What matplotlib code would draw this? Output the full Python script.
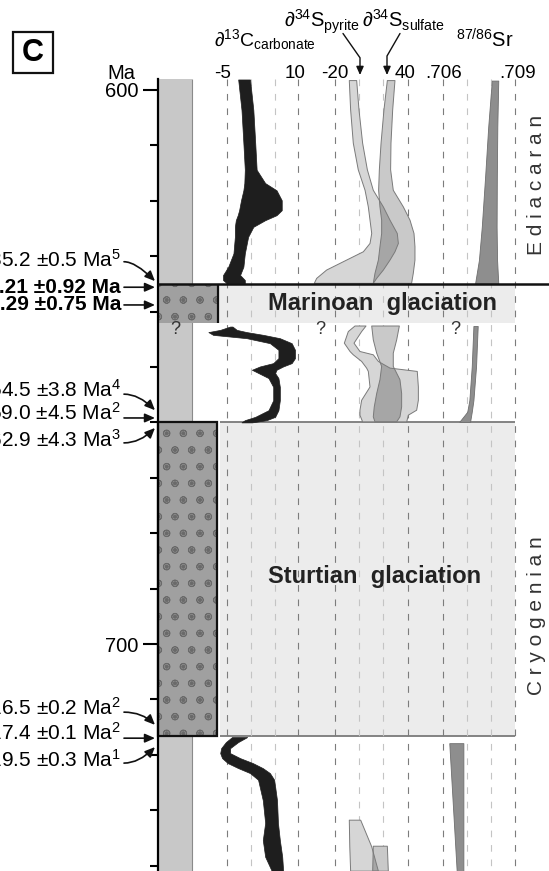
import numpy as np
import matplotlib.pyplot as plt
from matplotlib.patches import Rectangle

plt.rcParams['font.family'] = ['Liberation Sans', 'DejaVu Sans']
plt.rcParams['mathtext.fontset'] = 'custom'
plt.rcParams['mathtext.rm'] = 'Liberation Sans'
plt.rcParams['mathtext.it'] = 'Liberation Sans:italic'
plt.rcParams['mathtext.bf'] = 'Liberation Sans:bold'
plt.rcParams['hatch.linewidth'] = 0.6

# ---------------- time frame (Ma)
top_age, base_age = 598.0, 741.0
ediacaran_base = 635.0
marinoan = (635.0, 642.1)
sturtian = (659.9, 716.6)

# ---------------- d13C carbonate envelopes
c13_ed_age = [598.1, 603.6, 609.6, 614.4, 616.8, 618.1, 619.9, 621.7, 622.6, 623.5,
              624.7, 626.5, 629.5, 631.9, 633.4, 634.3, 634.9]
c13_ed_lo = [-2.7, -2.0, -1.6, -1.3, -1.4, -1.6, -2.1, -2.5, -2.8, -3.2,
             -3.4, -3.4, -3.7, -4.8, -5.9, -5.9, -5.1]
c13_ed_hi = [-0.2, 0.5, 0.9, 1.2, 3.0, 5.4, 6.5, 6.5, 5.4, 3.0,
             0.5, -0.6, -1.3, -1.6, -2.3, -1.3, -1.3]

c13_cr_age = [642.7, 643.3, 643.7, 644.2, 644.8, 645.7, 646.9, 648.4, 649.3, 649.9,
              650.5, 651.1, 652.0, 653.6, 656.0, 657.8, 659.0, 659.6, 660.0]
c13_cr_lo = [-4.4, -6.5, -9.0, -8.0, -0.9, 4.0, 5.8, 5.8, 4.7, 1.9,
             0.2, 1.6, 3.7, 4.7, 4.7, 3.7, 0.9, -1.3, -2.0]
c13_cr_hi = [-3.9, -3.0, -0.9, 2.6, 6.1, 8.6, 9.3, 9.3, 8.6, 6.8,
             5.4, 5.1, 5.8, 6.1, 6.1, 5.8, 5.1, 3.3, 0.2]

c13_pre_age = [716.8, 717.7, 718.8, 719.7, 720.6, 721.5, 722.4, 723.3, 724.5, 728.2,
               732.3, 735.4, 738.4, 741.0]
c13_pre_lo = [-4.0, -5.3, -6.3, -6.5, -6.1, -4.9, -2.7, -0.2, 1.5, 2.5, 3.0, 2.5, 3.0, 4.4]
c13_pre_hi = [-0.8, -2.7, -4.4, -4.4, -2.3, 0.4, 2.5, 4.0, 4.9, 5.5, 5.7, 6.1, 6.6, 6.8]

# ---------------- d34S pyrite / sulfate envelopes
pyr_ed_age = [598.3, 603.6, 609.6, 614.4, 618.1, 621.1, 623.5, 625.9, 627.7, 629.2,
              630.7, 632.5, 634.0, 634.9]
pyr_ed_lo = [-8.2, -7.1, -4.9, -0.8, 4.8, 7.5, 8.9, 10.3, 8.9, 3.4,
             -10.4, -26.9, -35.1, -37.1]
pyr_ed_hi = [-2.1, -0.2, 2.8, 6.7, 11.6, 19.9, 25.4, 31.4, 32.3, 29.5,
             25.4, 19.9, 14.4, 11.6]
sul_ed_age = [598.3, 603.6, 609.6, 614.4, 618.1, 621.1, 623.5, 625.9, 628.3, 630.7,
              633.1, 634.9]
sul_ed_lo = [23.2, 20.4, 18.0, 16.6, 16.0, 17.1, 18.5, 18.5, 17.1, 15.8, 13.0, 11.6]
sul_ed_hi = [29.5, 27.6, 26.2, 25.9, 28.1, 36.4, 41.9, 45.2, 46.0, 46.0, 44.6, 43.2]

pyr_cr_age = [642.6, 643.6, 645.7, 647.2, 647.8, 649.0, 650.2, 650.8, 653.6, 656.0,
              657.8, 658.7, 659.9]
pyr_cr_lo = [-3.5, -9.0, -12.3, -7.6, -4.9, 2.0, 6.1, 7.5, 8.9, 2.0, 0.6, 0.6, 2.8]
pyr_cr_hi = [5.6, 2.0, -4.3, 0.6, 11.6, 15.8, 25.4, 47.9, 48.8, 48.8, 47.4, 40.5, 39.2]
sul_cr_age = [642.6, 645.1, 647.5, 649.9, 652.3, 654.8, 657.2, 659.0, 659.9]
sul_cr_lo = [10.3, 11.6, 14.4, 18.5, 17.1, 14.4, 12.4, 11.6, 13.0]
sul_cr_hi = [33.1, 30.9, 28.1, 28.1, 33.6, 35.0, 35.0, 33.6, 30.9]

pyr_pre_age = [731.8, 736.6, 741.0]
pyr_pre_lo = [-8.2, -7.8, -7.1]
pyr_pre_hi = [1.2, 10.3, 15.8]
sul_pre_age = [736.5, 741.0]
sul_pre_lo = [11.6, 11.1]
sul_pre_hi = [23.2, 24.0]

# ---------------- 87/86Sr envelopes
sr_ed_age = [598.3, 606.6, 615.6, 624.7, 630.7, 634.9]
sr_ed_lo = [0.70803, 0.70788, 0.70775, 0.70761, 0.70749, 0.70733]
sr_ed_hi = [0.70830, 0.70826, 0.70824, 0.70823, 0.70825, 0.70830]
sr_cr_age = [642.6, 649.9, 656.0, 658.1, 659.9]
sr_cr_lo = [0.70726, 0.70719, 0.70709, 0.70700, 0.70667]
sr_cr_hi = [0.70744, 0.70737, 0.70726, 0.70719, 0.70712]
sr_pre_age = [717.9, 741.0]
sr_pre_lo = [0.70625, 0.70656]
sr_pre_hi = [0.70684, 0.70684]

# ---------------- radiometric dates
date_text = ['635.2 \u00b10.5 Ma$^{5}$', '636.21 \u00b10.92 Ma', '639.29 \u00b10.75 Ma',
             '654.5 \u00b13.8 Ma$^{4}$', '659.0 \u00b14.5 Ma$^{2}$', '662.9 \u00b14.3 Ma$^{3}$',
             '716.5 \u00b10.2 Ma$^{2}$', '717.4 \u00b10.1 Ma$^{2}$', '719.5 \u00b10.3 Ma$^{1}$']
date_bold = [False, True, True, False, False, False, False, False, False]
date_label_age = [630.7, 635.6, 638.8, 654.2, 658.3, 663.2, 711.6, 716.1, 720.9]
date_from_age = [631.0, 635.6, 638.8, 654.9, 659.2, 663.7, 712.3, 717.0, 721.5]
date_to_age = [634.5, 635.6, 638.8, 657.8, 659.2, 661.0, 714.6, 717.0, 718.6]

W, H = 549, 871
fig = plt.figure(figsize=(W / 100, H / 100), dpi=100)
fig.patch.set_facecolor('white')

# base axes: x in pixels, y in Ma (600 Ma at 90 px, 5.54 px per Myr)
ax = fig.add_axes([0, 0, 1, 1])
ax.set_xlim(0, W)
ax.set_ylim(600 + (H - 90) / 5.54, 600 - 90 / 5.54)
ax.patch.set_visible(False)
for s in ['right', 'top', 'bottom']:
    ax.spines[s].set_visible(False)
ax.spines['left'].set_position(('data', 158))
ax.spines['left'].set_bounds(top_age, base_age)
ax.spines['left'].set_linewidth(1.6)
ax.set_xticks([])
ax.set_yticks([600, 700])
ax.set_yticks(np.arange(610, 741, 10), minor=True)
ax.tick_params(axis='y', which='major', length=11, width=1.5, labelsize=14.5, pad=3)
ax.tick_params(axis='y', which='minor', length=6, width=1.5)

# lithology strip and glaciation bands
ax.add_patch(Rectangle((158, top_age), 34, base_age - top_age, fc='#c8c8c8', ec='none', zorder=1))
ax.vlines(192, top_age, base_age, colors='#8a8a8a', lw=0.8, zorder=1.1)
ax.add_patch(Rectangle((219, marinoan[0]), 296, marinoan[1] - marinoan[0], fc='#ececec', ec='none', zorder=1))
ax.add_patch(Rectangle((220, sturtian[0]), 295, sturtian[1] - sturtian[0], fc='#ececec', ec='none', zorder=1))
ax.hlines(sturtian, 220, 515, colors='#7a7a7a', lw=1.3, zorder=1.2)
for (a0, a1), w in [(marinoan, 60), (sturtian, 59)]:
    ax.add_patch(Rectangle((158, a0), w, a1 - a0, fc='#a0a0a0', ec='none', zorder=1.3))
    ax.add_patch(Rectangle((158, a0), w, a1 - a0, fc='none', ec='#6a6a6a', lw=0, hatch='o.', zorder=1.4))
ax.add_patch(Rectangle((158, sturtian[0]), 59, sturtian[1] - sturtian[0], fc='none', ec='#111', lw=1.6, zorder=1.5))
ax.vlines(218, marinoan[0], marinoan[1], colors='#111', lw=1.6, zorder=1.5)


def column(v0, x0, v1, x1):
    c = fig.add_axes([0, 0, 1, 1], sharey=ax)
    k = (v1 - v0) / (x1 - x0)
    c.set_xlim(v0 - x0 * k, v0 + (W - x0) * k)
    c.axis('off')
    c.patch.set_visible(False)
    return c


def grid(c, major, minor):
    c.vlines(major, top_age, base_age, colors='#7c7c7c', lw=0.8, linestyles=(0, (6, 7)), zorder=1)
    c.vlines(minor, top_age, base_age, colors='#c4c4c4', lw=0.8, linestyles=(0, (6, 7)), zorder=1)


def sulfur(c, pa, plo, phi, sa, slo, shi):
    c.fill_betweenx(pa, plo, phi, fc='#d6d6d6', ec='none', zorder=2)
    c.fill_betweenx(sa, slo, shi, fc='#c9c9c9', ec='none', zorder=2)
    a = np.linspace(max(pa[0], sa[0]), min(pa[-1], sa[-1]), 300)
    lo = np.maximum(np.interp(a, pa, plo), np.interp(a, sa, slo))
    hi = np.minimum(np.interp(a, pa, phi), np.interp(a, sa, shi))
    c.fill_betweenx(a, lo, hi, where=hi > lo, interpolate=True, fc='#a6a6a6', ec='none', zorder=2.1)
    c.fill_betweenx(pa, plo, phi, fc='none', ec='#7a7a7a', lw=0.7, zorder=2.2)
    c.fill_betweenx(sa, slo, shi, fc='none', ec='#7a7a7a', lw=0.7, zorder=2.2)


# d13C carbonate column
cax = column(-5, 227.3, 10, 298.3)
grid(cax, [-5, 10], [0, 5])
for a, lo, hi in [(c13_ed_age, c13_ed_lo, c13_ed_hi), (c13_cr_age, c13_cr_lo, c13_cr_hi),
                  (c13_pre_age, c13_pre_lo, c13_pre_hi)]:
    cax.fill_betweenx(a, lo, hi, fc='#1e1e1e', ec='#1e1e1e', lw=0.5, zorder=2)
for v, t in [(-6.0, '-5'), (9.4, '10')]:
    cax.text(v, 597.1, t, ha='center', va='center', fontsize=13.5)

# d34S column
sax = column(-20, 335.0, 40, 407.7)
grid(sax, [-20, 40], [0, 20])
sulfur(sax, pyr_ed_age, pyr_ed_lo, pyr_ed_hi, sul_ed_age, sul_ed_lo, sul_ed_hi)
sulfur(sax, pyr_cr_age, pyr_cr_lo, pyr_cr_hi, sul_cr_age, sul_cr_lo, sul_cr_hi)
sulfur(sax, pyr_pre_age, pyr_pre_lo, pyr_pre_hi, sul_pre_age, sul_pre_lo, sul_pre_hi)
for v, t in [(-20, '-20'), (37.5, '40')]:
    sax.text(v, 597.1, t, ha='center', va='center', fontsize=13.5)

# 87/86Sr column
rax = column(0.706, 443.3, 0.709, 515.0)
grid(rax, [0.706, 0.709], [0.707, 0.708])
for a, lo, hi in [(sr_ed_age, sr_ed_lo, sr_ed_hi), (sr_cr_age, sr_cr_lo, sr_cr_hi),
                  (sr_pre_age, sr_pre_lo, sr_pre_hi)]:
    rax.fill_betweenx(a, lo, hi, fc='#8e8e8e', ec='#6e6e6e', lw=0.6, zorder=2)
for v, t in [(0.706, '.706'), (0.70910, '.709')]:
    rax.text(v, 597.1, t, ha='center', va='center', fontsize=13.5)

# overlay: boundaries, labels, annotations
ov = fig.add_axes([0, 0, 1, 1], sharey=ax)
ov.set_xlim(0, W)
ov.axis('off')
ov.patch.set_visible(False)
ov.hlines(ediacaran_base, 158, W, colors='#111', lw=1.8)

ov.add_patch(Rectangle((13, 589.5), 40, 7.4, fc='white', ec='#111', lw=1.6))
ov.text(33, 593.3, 'C', ha='center', va='center', fontsize=22, fontweight='bold')
ov.text(121, 597.1, 'Ma', ha='center', va='center', fontsize=14.5)

ov.text(214, 592.1, '\u2202$^{13}$C$_{\\mathrm{carbonate}}$', fontsize=14, va='baseline')
ov.text(284, 588.8, '\u2202$^{34}$S$_{\\mathrm{pyrite}}$', fontsize=14.5, va='baseline')
ov.text(362, 588.8, '\u2202$^{34}$S$_{\\mathrm{sulfate}}$', fontsize=14.5, va='baseline')
ov.text(456, 592.4, '$^{87/86}$Sr', fontsize=14.5, va='baseline')
arrow = dict(arrowstyle='-|>,head_length=0.5,head_width=0.22', color='#111', lw=1.0,
             shrinkA=0, shrinkB=0, mutation_scale=10)
ov.annotate('', xy=(360, 597.3), xytext=(343, 589.8),
            arrowprops=dict(arrow, connectionstyle='angle,angleA=-55,angleB=90,rad=0'))
ov.annotate('', xy=(387, 597.3), xytext=(400, 589.8),
            arrowprops=dict(arrow, connectionstyle='angle,angleA=-120,angleB=90,rad=0'))

for t, b, ya, y0, y1 in zip(date_text, date_bold, date_label_age, date_from_age, date_to_age):
    ov.text(121, ya, t, ha='right', va='center', fontsize=15,
            fontweight='bold' if b else 'normal')
    if y0 == y1:
        cs = 'arc3,rad=0'
    elif y1 > y0:
        cs = 'angle3,angleA=0,angleB=-45'
    else:
        cs = 'angle3,angleA=0,angleB=45'
    ov.annotate('', xy=(155, y1), xytext=(124, y0),
                arrowprops=dict(arrow, lw=1.2, mutation_scale=12, connectionstyle=cs))

ov.text(382, 638.6, 'Marinoan  glaciation', ha='center', va='center', fontsize=17, fontweight='bold', color='#222')
ov.text(375, 687.9, 'Sturtian  glaciation', ha='center', va='center', fontsize=17, fontweight='bold', color='#222')
for x in [175, 320, 455]:
    ov.text(x, 643.3, '?', ha='center', va='center', fontsize=13, color='#333')
ov.text(536, 617.2, 'E d i a c a r a n', rotation=90, ha='center', va='center', fontsize=15, color='#333')
ov.text(536, 694.9, 'C r y o g e n i a n', rotation=90, ha='center', va='center', fontsize=15, color='#333')

fig.savefig('out.png', dpi=100, facecolor='white')
